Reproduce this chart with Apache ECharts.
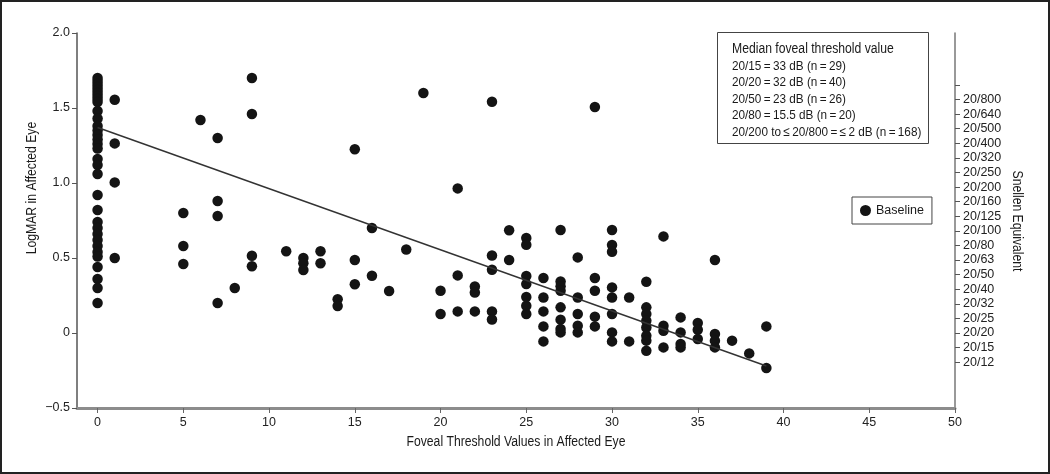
<!DOCTYPE html>
<html>
<head>
<meta charset="utf-8">
<script src="https://cdn.jsdelivr.net/npm/echarts@6/dist/echarts.min.js"></script>
<style>
  html, body { margin: 0; padding: 0; background: #fff; }
  #chart { width: 1050px; height: 474px; }
</style>
</head>
<body>
<div id="chart"></div>
<script>
// baseline eyes: [foveal threshold dB, logMAR]
const baselinePoints = [
  [0, 1.70], [0, 1.68], [0, 1.66], [0, 1.64], [0, 1.62], [0, 1.60], [0, 1.58], [0, 1.56], [0, 1.54],
  [0, 1.48], [0, 1.43], [0, 1.38], [0, 1.35], [0, 1.32], [0, 1.29], [0, 1.26], [0, 1.23], [0, 1.16],
  [0, 1.12], [0, 1.06], [0, 0.92], [0, 0.82], [0, 0.74], [0, 0.70], [0, 0.66], [0, 0.62], [0, 0.58],
  [0, 0.54], [0, 0.51], [0, 0.44], [0, 0.36], [0, 0.30], [0, 0.20],
  [1, 1.555], [1, 1.264], [1, 1.004], [1, 0.50],
  [5, 0.80], [5, 0.58], [5, 0.46],
  [6, 1.42],
  [7, 1.30], [7, 0.88], [7, 0.78], [7, 0.20],
  [8, 0.30],
  [9, 1.70], [9, 1.46], [9, 0.515], [9, 0.445],
  [11, 0.545],
  [12, 0.50], [12, 0.465], [12, 0.42],
  [13, 0.545], [13, 0.465],
  [14, 0.225], [14, 0.18],
  [15, 1.225], [15, 0.487], [15, 0.325],
  [16, 0.70], [16, 0.382],
  [17, 0.28],
  [18, 0.557],
  [19, 1.60],
  [20, 0.282], [20, 0.127],
  [21, 0.964], [21, 0.384], [21, 0.144],
  [22, 0.31], [22, 0.27], [22, 0.144],
  [23, 1.542], [23, 0.517], [23, 0.422], [23, 0.144], [23, 0.09],
  [24, 0.685], [24, 0.487],
  [25, 0.633], [25, 0.588], [25, 0.38], [25, 0.327], [25, 0.24], [25, 0.182], [25, 0.127],
  [26, 0.367], [26, 0.237], [26, 0.144], [26, 0.044], [26, -0.056],
  [27, 0.687], [27, 0.344], [27, 0.311], [27, 0.282], [27, 0.171], [27, 0.089], [27, 0.027], [27, 0.004],
  [28, 0.504], [28, 0.237], [28, 0.127], [28, 0.049], [28, 0.004],
  [29, 1.507], [29, 0.367], [29, 0.282], [29, 0.109], [29, 0.044],
  [30, 0.687], [30, 0.587], [30, 0.542], [30, 0.304], [30, 0.237], [30, 0.127], [30, 0.004], [30, -0.056],
  [31, 0.237], [31, -0.056],
  [32, 0.342], [32, 0.171], [32, 0.127], [32, 0.082], [32, 0.037], [32, -0.018], [32, -0.051], [32, -0.118],
  [33, 0.644], [33, 0.049], [33, 0.015], [33, -0.096],
  [34, 0.104], [34, 0.004], [34, -0.073], [34, -0.096],
  [35, 0.067], [35, 0.022], [35, -0.04],
  [36, 0.487], [36, -0.007], [36, -0.051], [36, -0.096],
  [37, -0.051],
  [38, -0.136],
  [39, 0.044], [39, -0.233]
]

// regression line end points
const fitLine = [[0, 1.37], [39, -0.22]]

const xTicks = [0, 5, 10, 15, 20, 25, 30, 35, 40, 45, 50]
// Snellen labels from step -2 (20/12) up to step 17 (unlabelled tick)
const snellenLabels = ['20/12', '20/15', '20/20', '20/25', '20/32', '20/40', '20/50', '20/63', '20/80', '20/100',
  '20/125', '20/160', '20/200', '20/250', '20/320', '20/400', '20/500', '20/640', '20/800', '']
const snellenTicks = [-2, -1, 0, 1, 2, 3, 4, 5, 6, 7, 8, 9, 10, 11, 12, 13, 14, 15, 16, 17]

const noteLines = [
  'Median foveal threshold value',
  '20/15\u2009=\u200933 dB (n\u2009=\u200929)',
  '20/20\u2009=\u200932 dB (n\u2009=\u200940)',
  '20/50\u2009=\u200923 dB (n\u2009=\u200926)',
  '20/80\u2009=\u200915.5 dB (n\u2009=\u200920)',
  '20/200 to\u2009\u2264\u200920/800\u2009=\u2009\u2264\u20092 dB (n\u2009=\u2009168)'
]

const FONT = "'Liberation Sans', Arial, sans-serif"
const NARROW = 0.87 // squeeze free text to look like a condensed face
const snellenStep = 0.0973 // logMAR per Snellen row on the right-hand scale

const chart = echarts.init(document.getElementById('chart'))

const noteTexts = noteLines.map((t, i) => ({
  type: 'text',
  x: 732,
  y: i === 0 ? 49 : 66 + (i - 1) * 16.5,
  scaleX: NARROW,
  style: {
    text: t,
    fill: '#1a1a1a',
    font: (i === 0 ? '14px ' : '13.5px ') + FONT,
    textVerticalAlign: 'middle'
  }
}))

chart.setOption({
  animation: false,
  textStyle: { fontFamily: FONT },
  grid: { left: 77, right: 95, top: 33, bottom: 66 },
  legend: {
    data: ['Baseline'],
    left: 852,
    top: 197,
    orient: 'vertical',
    icon: 'circle',
    itemWidth: 11,
    itemHeight: 11,
    itemGap: 0,
    padding: [7, 8, 7, 8],
    borderColor: '#444',
    borderWidth: 1,
    textStyle: { fontSize: 12.5, color: '#1a1a1a', fontFamily: FONT }
  },
  xAxis: {
    type: 'value',
    min: -1.2,
    max: 50,
    axisLine: { onZero: false, lineStyle: { color: '#8c8c8c', width: 3 } },
    axisTick: { customValues: xTicks, length: 5, lineStyle: { color: '#666' } },
    axisLabel: { customValues: xTicks, margin: 8, fontSize: 12.5, color: '#222' },
    splitLine: { show: false }
  },
  yAxis: [
    {
      type: 'value',
      position: 'left',
      min: -0.5,
      max: 2,
      interval: 0.5,
      axisLine: { show: true, onZero: false, lineStyle: { color: '#555', width: 1.5 } },
      axisTick: { show: true, length: 5, lineStyle: { color: '#555' } },
      axisLabel: {
        margin: 7,
        fontSize: 12.5,
        color: '#222',
        formatter: v => v === 0 ? '0' : (v < 0 ? '\u2212' + Math.abs(v).toFixed(1) : v.toFixed(1))
      },
      splitLine: { show: false }
    },
    {
      type: 'value',
      position: 'right',
      min: -0.5 / snellenStep,
      max: 2 / snellenStep,
      axisLine: { show: true, onZero: false, lineStyle: { color: '#777', width: 1.5 } },
      axisTick: { show: true, customValues: snellenTicks, length: 5, lineStyle: { color: '#555' } },
      axisLabel: {
        customValues: snellenTicks.slice(0, -1),
        margin: 8,
        fontSize: 12.5,
        color: '#222',
        formatter: v => snellenLabels[Math.round(v) + 2]
      },
      splitLine: { show: false }
    }
  ],
  graphic: [
    { type: 'rect', shape: { x: 1, y: 1, width: 1048, height: 472 }, style: { fill: 'none', stroke: '#222', lineWidth: 2 } },
    {
      type: 'text', x: 32, y: 188, rotation: Math.PI / 2, scaleX: NARROW,
      style: { text: 'LogMAR in Affected Eye', font: '14px ' + FONT, fill: '#1a1a1a', textAlign: 'center', textVerticalAlign: 'middle' }
    },
    {
      type: 'text', x: 1017, y: 221, rotation: -Math.PI / 2, scaleX: NARROW,
      style: { text: 'Snellen Equivalent', font: '14px ' + FONT, fill: '#1a1a1a', textAlign: 'center', textVerticalAlign: 'middle' }
    },
    {
      type: 'text', x: 516, y: 442, scaleX: NARROW,
      style: { text: 'Foveal Threshold Values in Affected Eye', font: '14px ' + FONT, fill: '#1a1a1a', textAlign: 'center', textVerticalAlign: 'middle' }
    },
    { type: 'rect', shape: { x: 717.5, y: 32.5, width: 211, height: 111 }, style: { fill: '#fff', stroke: '#444', lineWidth: 1 } },
    ...noteTexts
  ],
  series: [
    {
      name: 'Baseline',
      type: 'scatter',
      data: baselinePoints,
      symbolSize: 10.5,
      itemStyle: { color: '#141414', opacity: 1 },
      z: 3
    },
    {
      name: 'fit',
      type: 'line',
      data: fitLine,
      symbol: 'none',
      lineStyle: { color: '#333', width: 1.4 },
      z: 4
    }
  ]
})
</script>
</body>
</html>
